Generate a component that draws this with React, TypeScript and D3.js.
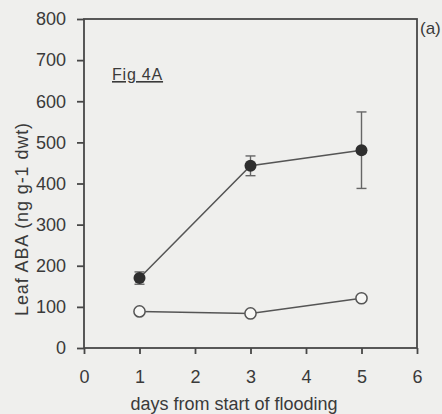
import React, { useEffect, useRef } from "react";
import * as d3 from "d3";

// days from start of flooding
const days = [1, 3, 5];
// flooded plants (filled circles) with SE
const flooded = [170, 443, 481];
const floodedErr = [15, 24, 93];
// control plants (open circles)
const control = [89, 84, 121];

const xTicks = [0, 1, 2, 3, 4, 5, 6];
const yTicks = [0, 100, 200, 300, 400, 500, 600, 700, 800];

const App = () => {
  const ref = useRef<SVGSVGElement>(null);

  useEffect(() => {
    const width = 442;
    const height = 414;
    const margin = { top: 19, left: 84, bottom: 66, right: 25 };
    const ink = "#474747";
    const textCol = "#3a3a3a";
    const font = "'Liberation Sans', Arial, sans-serif";

    const svg = d3.select(ref.current);
    svg.selectAll("*").remove();

    svg
      .append("rect")
      .attr("width", width)
      .attr("height", height)
      .attr("fill", "#efefed");

    const x = d3
      .scaleLinear()
      .domain([0, 6])
      .range([margin.left, width - margin.right]);

    const y = d3
      .scaleLinear()
      .domain([0, 800])
      .range([height - margin.bottom, margin.top]);

    // frame
    svg
      .append("rect")
      .attr("x", x(0))
      .attr("y", y(800))
      .attr("width", x(6) - x(0))
      .attr("height", y(0) - y(800))
      .attr("fill", "none")
      .attr("stroke", ink)
      .attr("stroke-width", 1.8);

    // @ts-ignore
    const xAxis = (g) =>
      g
        .attr("transform", `translate(0, ${y(0)})`)
        .call(d3.axisBottom(x).tickValues(xTicks).tickSize(6).tickPadding(16).tickFormat(d3.format("d")))
        // @ts-ignore
        .call((g) => g.select(".domain").remove());

    // @ts-ignore
    const yAxis = (g) =>
      g
        .attr("transform", `translate(${x(0)}, 0)`)
        .call(d3.axisLeft(y).tickValues(yTicks).tickSize(7).tickPadding(11))
        // @ts-ignore
        .call((g) => g.select(".domain").remove());

    svg.append("g").call(xAxis);
    svg.append("g").call(yAxis);

    svg
      .selectAll(".tick line")
      .attr("stroke", ink)
      .attr("stroke-width", 1.8);
    svg
      .selectAll(".tick text")
      .attr("fill", textCol)
      .attr("font-family", font)
      .attr("font-size", "18px");

    // axis titles
    svg
      .append("text")
      .text("days from start of flooding")
      .attr("x", 234)
      .attr("y", 410)
      .attr("text-anchor", "middle")
      .attr("fill", textCol)
      .attr("font-family", font)
      .attr("font-size", "18px");

    svg
      .append("text")
      .text("Leaf ABA (ng g-1 dwt)")
      .attr("transform", `translate(28, 219) rotate(-90)`)
      .attr("text-anchor", "middle")
      .attr("fill", textCol)
      .attr("font-family", font)
      .attr("font-size", "18px")
      .attr("letter-spacing", "0.9px");

    // panel labels
    svg
      .append("text")
      .text("(a)")
      .attr("x", 420)
      .attr("y", 34)
      .attr("fill", textCol)
      .attr("font-family", font)
      .attr("font-size", "17px");

    svg
      .append("text")
      .text("Fig 4A")
      .attr("x", 112)
      .attr("y", 80)
      .attr("text-decoration", "underline")
      .attr("fill", textCol)
      .attr("font-family", font)
      .attr("font-size", "16px")
      .attr("letter-spacing", "0.8px");

    const line = d3
      .line<number>()
      .x((d, i) => x(days[i]))
      .y((d) => y(d));

    // error bars
    const eb = svg.append("g").attr("stroke", "#666").attr("stroke-width", 1.4);
    floodedErr.forEach((e, i) => {
      const cx = x(days[i]);
      eb.append("line")
        .attr("x1", cx)
        .attr("x2", cx)
        .attr("y1", y(flooded[i] - e))
        .attr("y2", y(flooded[i] + e));
      [flooded[i] - e, flooded[i] + e].forEach((v) => {
        eb.append("line")
          .attr("x1", cx - 5)
          .attr("x2", cx + 5)
          .attr("y1", y(v))
          .attr("y2", y(v));
      });
    });

    svg
      .append("path")
      .datum(flooded)
      .attr("fill", "none")
      .attr("stroke", "#555")
      .attr("stroke-width", 1.5)
      // @ts-ignore
      .attr("d", line);

    svg
      .append("path")
      .datum(control)
      .attr("fill", "none")
      .attr("stroke", "#555")
      .attr("stroke-width", 1.5)
      // @ts-ignore
      .attr("d", line);

    svg
      .append("g")
      .selectAll("circle")
      .data(flooded)
      .enter()
      .append("circle")
      .attr("cx", (d, i) => x(days[i]))
      .attr("cy", (d) => y(d))
      .attr("r", 6)
      .attr("fill", "#2e2e2e");

    svg
      .append("g")
      .selectAll("circle")
      .data(control)
      .enter()
      .append("circle")
      .attr("cx", (d, i) => x(days[i]))
      .attr("cy", (d) => y(d))
      .attr("r", 5.6)
      .attr("fill", "#f7f7f5")
      .attr("stroke", "#555")
      .attr("stroke-width", 1.5);
  }, []);

  return (
    <svg
      ref={ref}
      width={442}
      height={414}
      style={{ position: "absolute", left: 0, top: 0 }}
    />
  );
};

export default App;
